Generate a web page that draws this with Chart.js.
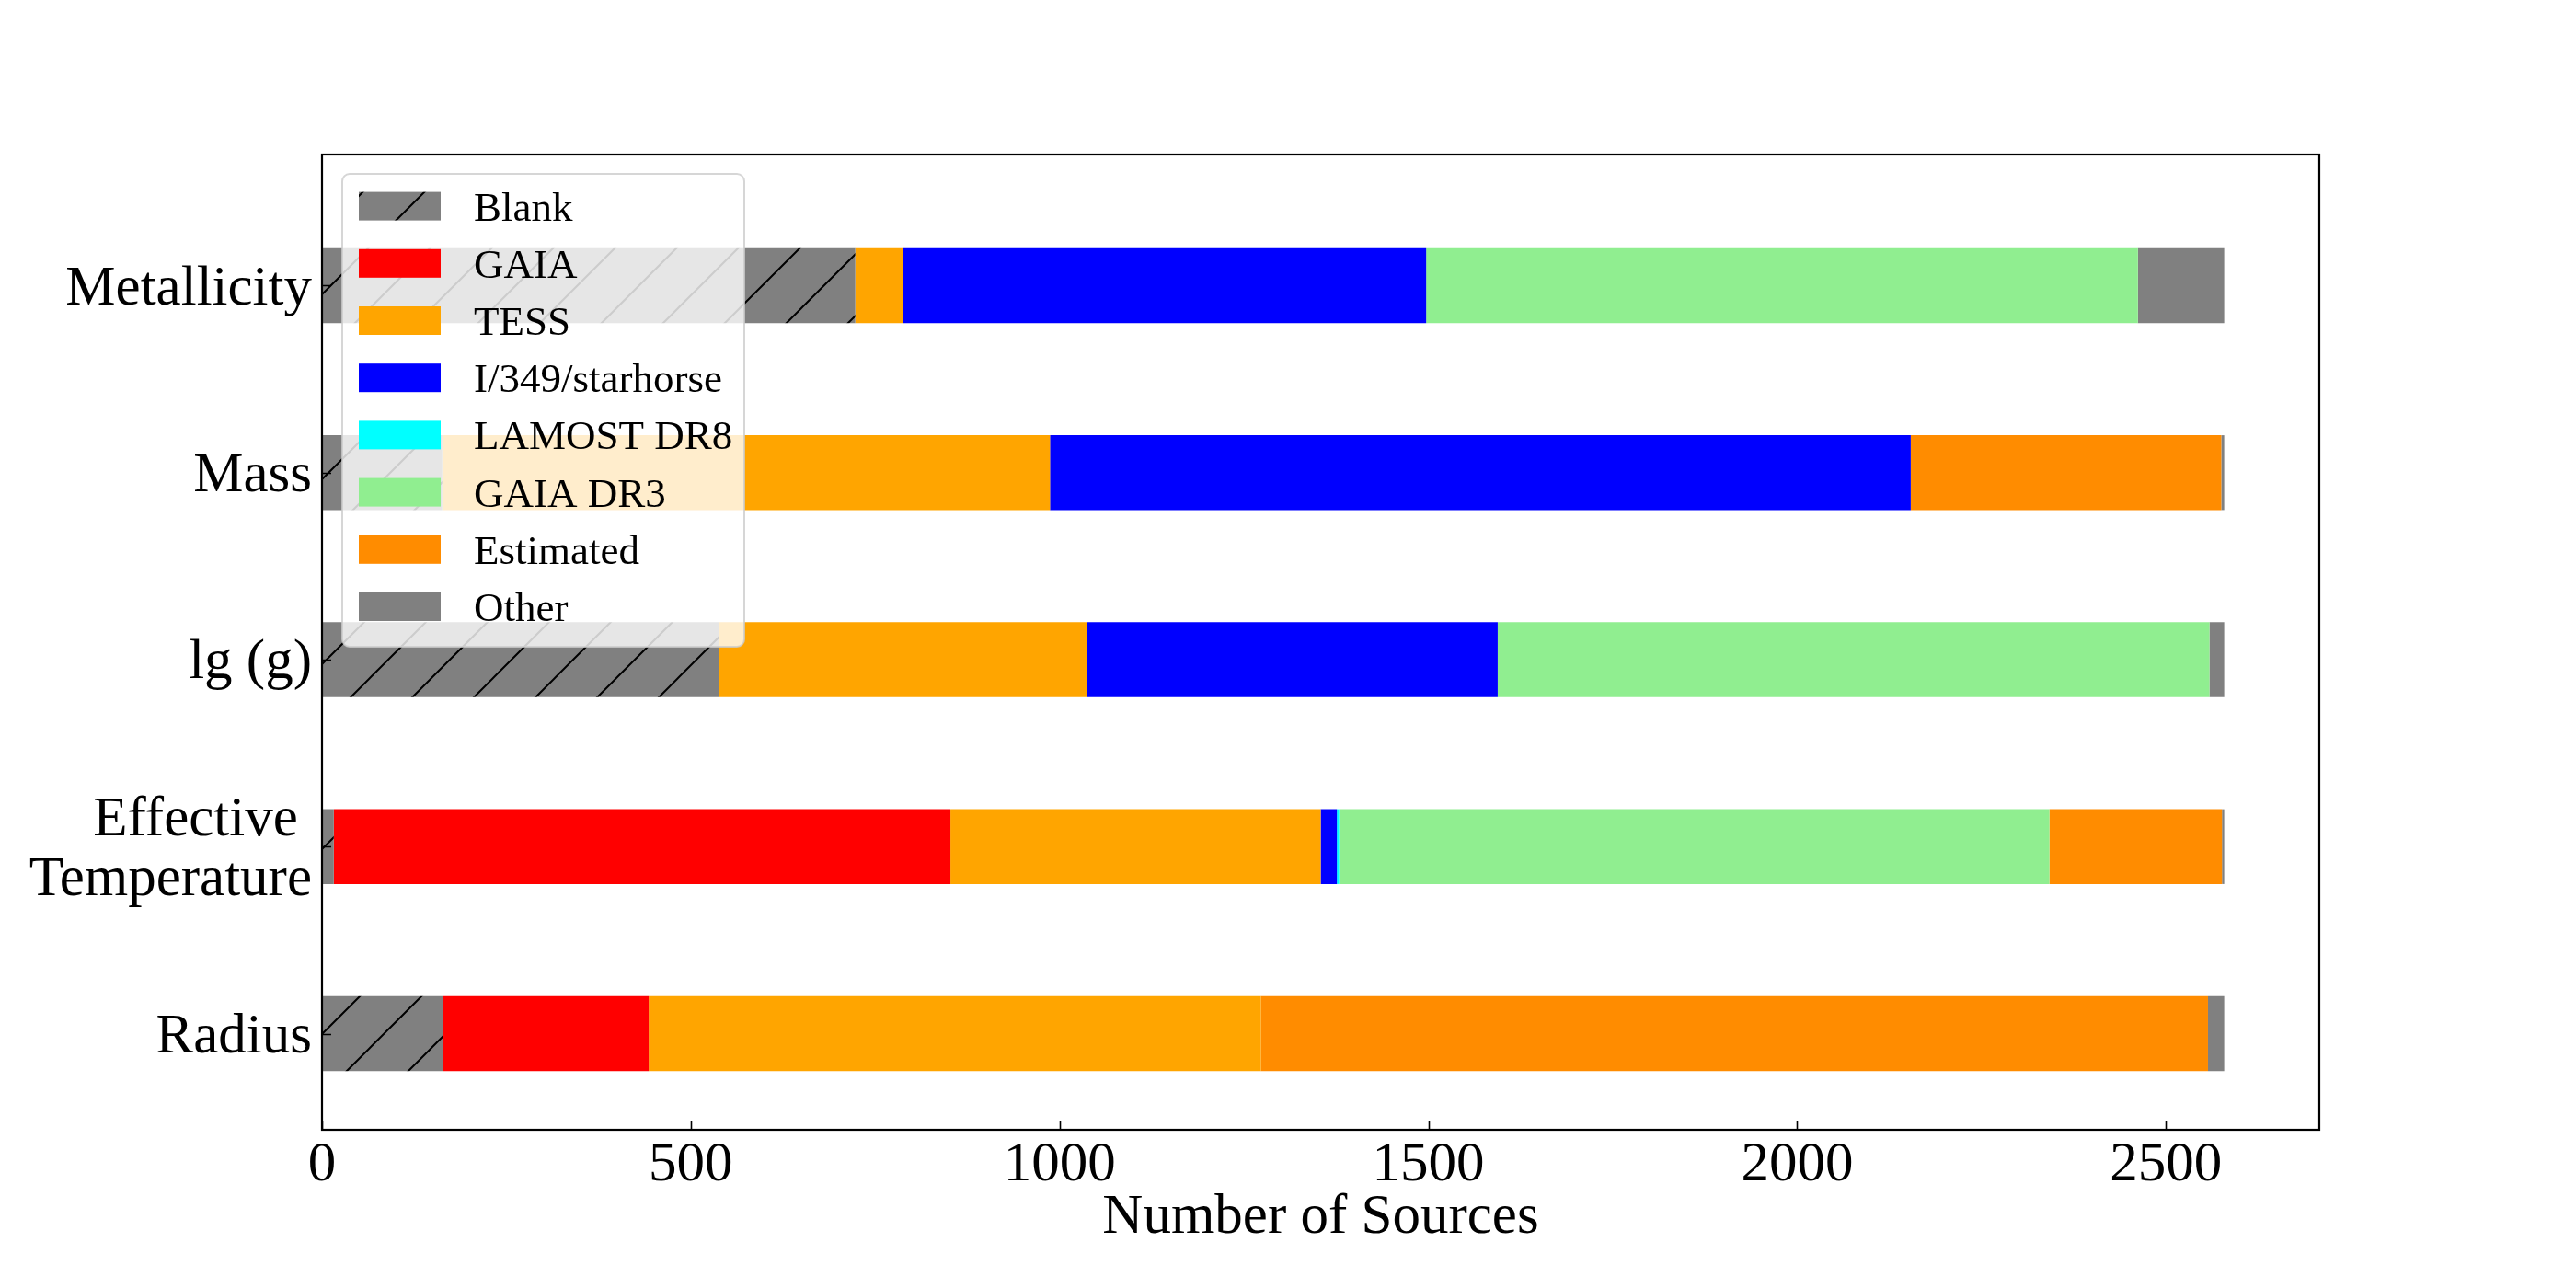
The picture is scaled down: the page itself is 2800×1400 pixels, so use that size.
<!DOCTYPE html>
<html>
<head>
<meta charset="utf-8">
<script src="https://cdn.jsdelivr.net/npm/chart.js@4"></script>
<style>
  html, body { margin: 0; padding: 0; background: #fff; }
  #chart { display: block; }
</style>
</head>
<body>
<canvas id="chart" width="2800" height="1400"></canvas>
<script>
// categories, bottom to top (matplotlib barh order)
const categories = ["Radius", "Effective Temperature", "lg (g)", "Mass", "Metallicity"];
const tickLabels = ["Radius", ["Effective ", "Temperature"], "lg (g)", "Mass", "Metallicity"];

const sources = ["Blank", "GAIA", "TESS", "I/349/starhorse", "LAMOST DR8", "GAIA DR3", "Estimated", "Other"];

// number of sources per category, same order as categories
const blank     = [164,   16, 538,  163, 723];
const gaia      = [279,  836,   0,    0,   0];
const tess      = [830,  502, 499,  824,  65];
const starhorse = [  0,   22, 557, 1167, 709];
const lamost    = [  0,    3,   0,    0,   0];
const gaiaDr3   = [  0,  963, 965,    0, 965];
const estimated = [1284, 234,   0,  421,   0];
const other     = [ 22,    3,  20,    4, 117];

const xTicks = [0, 500, 1000, 1500, 2000, 2500];

const series = [blank, gaia, tess, starhorse, lamost, gaiaDr3, estimated, other];

const canvas = document.getElementById("chart");
const ctx = canvas.getContext("2d");
const FONT = "'Liberation Serif', 'Times New Roman', serif";

// gray with "/" hatch, like matplotlib hatch='/'
function makeHatch() {
  const s = 67;
  const c = document.createElement("canvas");
  c.width = s;
  c.height = s;
  const g = c.getContext("2d");
  g.fillStyle = "#808080";
  g.fillRect(0, 0, s, s);
  g.strokeStyle = "#000";
  g.lineWidth = 2;
  g.beginPath();
  g.moveTo(-5, s + 5); g.lineTo(s + 5, -5);
  g.moveTo(-5, 5); g.lineTo(5, -5);
  g.moveTo(s - 5, s + 5); g.lineTo(s + 5, s - 5);
  g.stroke();
  return ctx.createPattern(c, "repeat");
}

const colors = [makeHatch(), "#ff0000", "#ffa500", "#0000ff", "#00ffff", "#90ee90", "#ff8c00", "#808080"];

const totals = categories.map((_, i) => series.reduce((s, arr) => s + arr[i], 0));
const xMax = Math.max(...totals) * 1.05;

// box around the axes + inward ticks
const framePlugin = {
  id: "frame",
  afterDatasetsDraw(chart) {
    const { ctx, chartArea: a, scales } = chart;
    ctx.save();
    ctx.strokeStyle = "#000";
    ctx.lineWidth = 1.6;
    ctx.beginPath();
    scales.x.ticks.forEach((t) => {
      const px = Math.round(scales.x.getPixelForValue(t.value)) + 0.5;
      ctx.moveTo(px, a.bottom);
      ctx.lineTo(px, a.bottom - 10);
    });
    scales.y.ticks.forEach((t) => {
      const py = Math.round(scales.y.getPixelForValue(t.value)) + 0.5;
      ctx.moveTo(a.left, py);
      ctx.lineTo(a.left + 10, py);
    });
    ctx.stroke();
    ctx.lineWidth = 2.2;
    ctx.strokeRect(a.left, a.top, a.right - a.left, a.bottom - a.top);
    ctx.restore();
  },
};

// legend inside the axes, white box with alpha 0.8
const legendPlugin = {
  id: "innerLegend",
  afterDraw(chart) {
    const { ctx } = chart;
    const box = { x: 372, y: 189, w: 437, h: 514, r: 8 };
    ctx.save();
    ctx.beginPath();
    ctx.roundRect(box.x, box.y, box.w, box.h, box.r);
    ctx.fillStyle = "rgba(255,255,255,0.8)";
    ctx.fill();
    ctx.strokeStyle = "rgba(204,204,204,0.8)";
    ctx.lineWidth = 2;
    ctx.stroke();
    ctx.font = "45px " + FONT;
    ctx.textAlign = "left";
    ctx.textBaseline = "alphabetic";
    chart.data.datasets.forEach((ds, i) => {
      const y = 208.6 + i * 62.2;
      ctx.fillStyle = ds.backgroundColor;
      ctx.fillRect(390, y, 89, 31);
      ctx.fillStyle = "#000";
      ctx.fillText(ds.label, 515, y + 31);
    });
    ctx.restore();
  },
};

const chart = new Chart(ctx, {
  type: "bar",
  data: {
    datasets: sources.map((name, k) => ({
      label: name,
      data: series[k].map((v, i) => ({ x: v, y: i })),
      backgroundColor: colors[k],
      borderWidth: 0,
      categoryPercentage: 1,
      barPercentage: 0.4,
    })),
  },
  options: {
    indexAxis: "y",
    responsive: false,
    animation: false,
    devicePixelRatio: 1,
    layout: { padding: { top: 168, right: 279, left: 0, bottom: 0 } },
    plugins: {
      legend: { display: false },
      tooltip: { enabled: false },
    },
    scales: {
      x: {
        type: "linear",
        stacked: true,
        offset: false,
        min: 0,
        max: xMax,
        afterBuildTicks: (axis) => {
          axis.ticks = xTicks.map((v) => ({ value: v }));
        },
        afterFit: (scale) => { scale.height = 172; },
        grid: { display: false, drawTicks: false },
        border: { display: false },
        ticks: {
          padding: 2,
          maxRotation: 0,
          color: "#000",
          font: { family: FONT, size: 61 },
          callback: (v) => String(v),
        },
        title: {
          display: true,
          text: "Number of Sources",
          color: "#000",
          font: { family: FONT, size: 61 },
          padding: { top: 0, bottom: 39 },
        },
      },
      y: {
        type: "linear",
        stacked: true,
        offset: false,
        min: -0.514,
        max: 4.701,
        afterBuildTicks: (axis) => {
          axis.ticks = categories.map((_, i) => ({ value: i }));
        },
        afterFit: (scale) => { scale.width = 350; },
        grid: { display: false, drawTicks: false, offset: false },
        border: { display: false },
        ticks: {
          autoSkip: false,
          padding: 11,
          labelOffset: 4,
          color: "#000",
          font: { family: FONT, size: 61, lineHeight: 1.06 },
          callback: (v) => tickLabels[v],
        },
      },
    },
  },
  plugins: [framePlugin, legendPlugin],
});
</script>
</body>
</html>
